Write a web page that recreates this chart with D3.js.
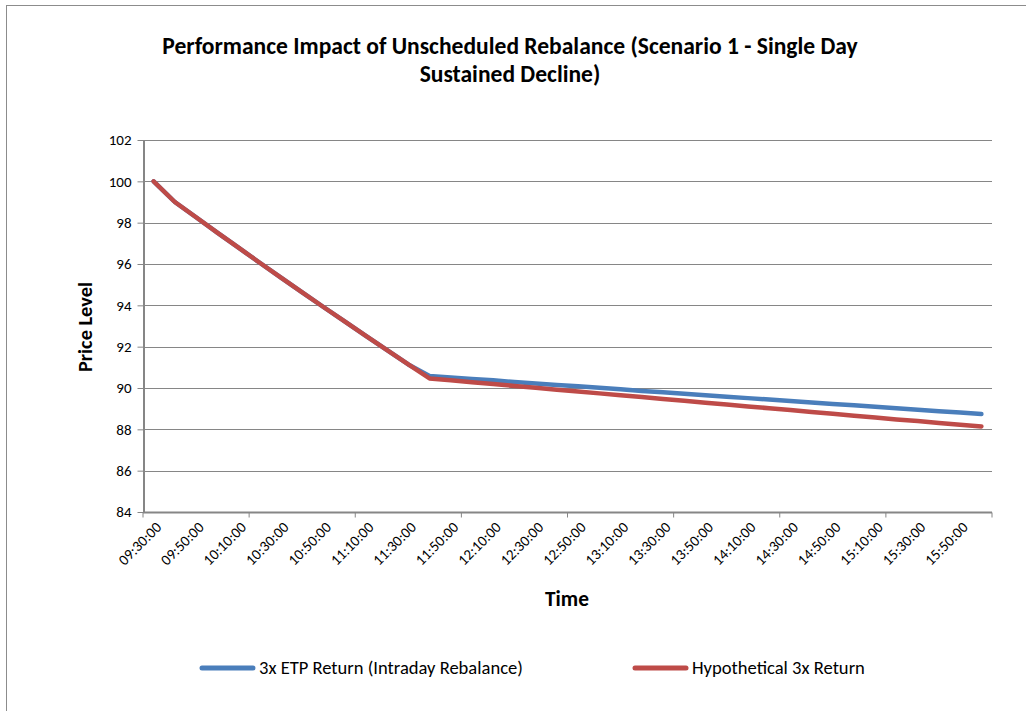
<!DOCTYPE html>
<html lang="en">
<head>
<meta charset="utf-8">
<title>Performance Impact of Unscheduled Rebalance</title>
<script src="https://d3js.org/d3.v7.min.js"></script>
<style>
  body { margin: 0; background: #fff; }
  svg { display: block; }
  text { font-family: Carlito, Lato, "Open Sans", sans-serif; fill: #000; }
  .grid line { stroke: #868686; stroke-width: 1px; }
  .axis path, .axis line { stroke: #868686; }
</style>
</head>
<body>
<svg width="1026" height="711"></svg>
<script>
// categories (10 minute steps)
var times = ["09:30:00","09:40:00","09:50:00","10:00:00","10:10:00","10:20:00","10:30:00","10:40:00",
  "10:50:00","11:00:00","11:10:00","11:20:00","11:30:00","11:40:00","11:50:00","12:00:00",
  "12:10:00","12:20:00","12:30:00","12:40:00","12:50:00","13:00:00","13:10:00","13:20:00",
  "13:30:00","13:40:00","13:50:00","14:00:00","14:10:00","14:20:00","14:30:00","14:40:00",
  "14:50:00","15:00:00","15:10:00","15:20:00","15:30:00","15:40:00","15:50:00","16:00:00"];

var etpReturn = [100, 99.0, 98.26, 97.52, 96.79, 96.06, 95.34, 94.63, 93.92, 93.22, 92.52, 91.83, 91.14, 90.58,
  90.51, 90.44, 90.37, 90.29, 90.22, 90.15, 90.08, 90.01, 89.94, 89.86, 89.79, 89.72, 89.65,
  89.58, 89.51, 89.44, 89.37, 89.30, 89.23, 89.16, 89.09, 89.02, 88.95, 88.88, 88.81, 88.74];

var hypoReturn = [100, 99.0, 98.26, 97.52, 96.79, 96.06, 95.34, 94.63, 93.92, 93.22, 92.52, 91.83, 91.14, 90.46,
  90.37, 90.28, 90.19, 90.10, 90.01, 89.92, 89.83, 89.74, 89.65, 89.56, 89.47, 89.38, 89.29,
  89.20, 89.11, 89.02, 88.93, 88.84, 88.75, 88.66, 88.57, 88.48, 88.40, 88.31, 88.22, 88.14];

var yTicks = [84, 86, 88, 90, 92, 94, 96, 98, 100, 102];

var seriesNames = ["3x ETP Return (Intraday Rebalance)", "Hypothetical 3x Return"];
var seriesColors = ["#4A7EBB", "#BE4B48"];

var svg = d3.select("svg");

// outer chart border
svg.append("rect")
  .attr("x", 6.5).attr("y", 5.5)
  .attr("width", 1030).attr("height", 720)
  .attr("fill", "none")
  .attr("stroke", "#8c8c8c")
  .attr("stroke-width", 1);

var plotL = 143, plotR = 992, plotT = 140, plotB = 512;

var x = d3.scaleBand().domain(times).range([plotL, plotR]);
var y = d3.scaleLinear().domain([84, 102]).range([plotB, plotT]);
var cx = function(t) { return x(t) + x.bandwidth() / 2; };

// gridlines
svg.append("g").attr("class", "grid")
  .selectAll("line")
  .data(yTicks.slice(1))
  .enter().append("line")
  .attr("x1", plotL).attr("x2", plotR)
  .attr("y1", d => Math.round(y(d)) + 0.5)
  .attr("y2", d => Math.round(y(d)) + 0.5);

// y axis
var yAxis = svg.append("g")
  .attr("class", "axis")
  .attr("transform", "translate(" + (plotL + 0.5) + ",0)")
  .call(d3.axisLeft(y).tickValues(yTicks).tickSize(6).tickSizeOuter(0).tickPadding(6));
yAxis.select(".domain").attr("stroke-width", 2);
yAxis.selectAll("text").style("font-size", "15px").style("font-family", "Carlito, Lato, sans-serif");

// x axis: labels every 2nd category, tick marks every 5 categories
var xAxis = svg.append("g")
  .attr("class", "axis")
  .attr("transform", "translate(0," + (plotB + 0.5) + ")")
  .call(d3.axisBottom(x)
    .tickValues(times.filter((d, i) => i % 2 === 0 && i < 39))
    .tickSize(0).tickSizeOuter(0));
xAxis.select(".domain").attr("stroke-width", 2).attr("d", "M" + plotL + ",0H" + plotR);
xAxis.selectAll("text")
  .style("font-size", "15px")
  .style("font-family", "Carlito, Lato, sans-serif")
  .attr("text-anchor", "end")
  .attr("dy", "0.35em")
  .attr("transform", "translate(5,12) rotate(-45)")
  .attr("y", 0).attr("x", 0);

var tickIdx = d3.range(0, times.length + 1, 5);
xAxis.selectAll(".xt")
  .data(tickIdx)
  .enter().append("line")
  .attr("class", "xt")
  .attr("x1", d => (d < times.length ? x(times[d]) : plotR))
  .attr("x2", d => (d < times.length ? x(times[d]) : plotR))
  .attr("y1", 0).attr("y2", 5)
  .attr("stroke", "#868686");

// lines
var line = d3.line()
  .x((d, i) => cx(times[i]))
  .y(d => y(d));

[etpReturn, hypoReturn].forEach(function(s, k) {
  svg.append("path")
    .datum(s)
    .attr("fill", "none")
    .attr("stroke", seriesColors[k])
    .attr("stroke-width", 4.5)
    .attr("stroke-linejoin", "round")
    .attr("stroke-linecap", "round")
    .attr("d", line);
});

// fit text width helper
function fitWidth(sel, w) {
  var n = sel.node();
  var cur = n.getComputedTextLength();
  var fs = parseFloat(sel.style("font-size"));
  sel.style("font-size", (fs * w / cur) + "px");
}

// title
var t1 = svg.append("text")
  .attr("x", 510).attr("y", 54)
  .attr("text-anchor", "middle")
  .style("font-weight", "bold").style("font-size", "18.7px")
  .text("Performance Impact of Unscheduled Rebalance (Scenario 1 - Single Day");
fitWidth(t1, 695);
svg.append("text")
  .attr("x", 510).attr("y", 82)
  .attr("text-anchor", "middle")
  .style("font-weight", "bold").style("font-size", t1.style("font-size"))
  .text("Sustained Decline)");

// axis titles
var yt = svg.append("text")
  .attr("transform", "translate(92,327) rotate(-90)")
  .attr("text-anchor", "middle")
  .style("font-weight", "bold").style("font-size", "18px")
  .text("Price Level");
fitWidth(yt, 90);

var xt = svg.append("text")
  .attr("x", 567).attr("y", 606)
  .attr("text-anchor", "middle")
  .style("font-weight", "bold").style("font-size", "18px")
  .text("Time");
fitWidth(xt, 44);

// legend
var legendX = [200, 633];
var legendW = [264, 173];
seriesNames.forEach(function(name, k) {
  svg.append("line")
    .attr("x1", legendX[k] + 2).attr("x2", legendX[k] + 53)
    .attr("y1", 668).attr("y2", 668)
    .attr("stroke", seriesColors[k])
    .attr("stroke-width", 5)
    .attr("stroke-linecap", "round");
  var lt = svg.append("text")
    .attr("x", legendX[k] + 59).attr("y", 674)
    .style("font-size", "13.3px")
    .text(name);
  fitWidth(lt, legendW[k]);
});
</script>
</body>
</html>
